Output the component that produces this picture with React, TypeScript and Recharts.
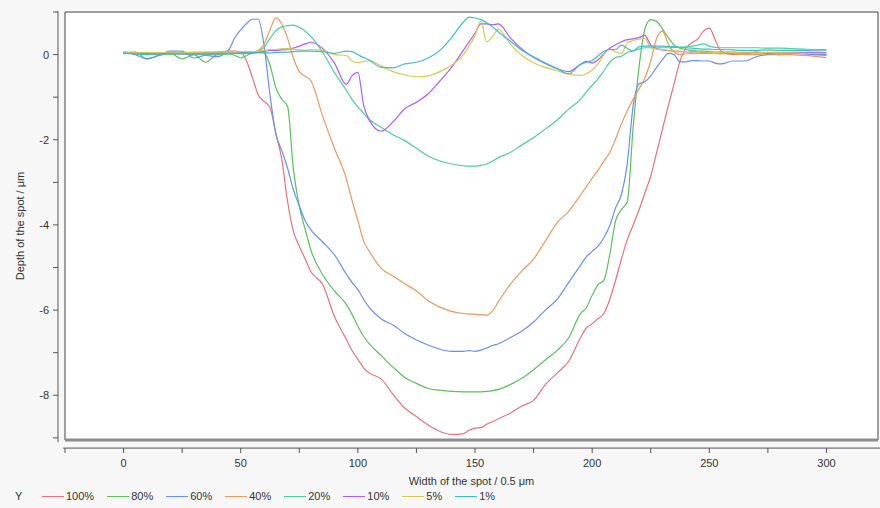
import React from 'react'
import { LineChart, Line, XAxis, YAxis, CartesianGrid, ReferenceArea, ReferenceLine } from 'recharts'

// spot width positions (x, in 0.5 µm steps)
const widths = [
  0, 5, 10, 15, 20, 25, 30, 35, 40, 45,
  47.5, 50, 52.5, 55, 57.5, 60, 62.5, 65, 67.5, 70, 72.5, 75, 77.5, 80,
  85, 90, 95, 97.5, 100, 102.5,
  105, 110, 115, 120, 125, 130, 135, 140, 145,
  147.5, 150, 152.5, 155, 157.5, 160,
  165, 170, 175, 180, 185, 190, 195,
  197.5, 200, 202.5, 205, 207.5, 210, 212.5, 215, 217.5, 220, 222.5, 225, 227.5, 230,
  232.5, 235, 237.5, 240, 242.5, 245, 247.5, 250, 252.5, 255,
  260, 265, 270, 275, 280, 285, 290, 295, 300,
]

const depth100 = [
  0.05, 0.04, 0.03, 0.04, 0.03, 0.04, 0.05, 0.05, 0.06, 0.08,
  0.08, 0.06, -0.15, -0.54, -0.95, -1.1, -1.25, -1.85, -2.45, -3.45, -4.15, -4.5, -4.8, -5.1,
  -5.4, -6.15, -6.68, -6.95, -7.15, -7.36,
  -7.48, -7.62, -7.98, -8.3, -8.5, -8.7, -8.85, -8.92, -8.9,
  -8.82, -8.77, -8.76, -8.68, -8.62, -8.55,
  -8.42, -8.25, -8.12, -7.75, -7.48, -7.2, -6.65,
  -6.42, -6.32, -6.2, -6.08, -5.75, -5.3, -4.8, -4.34, -4.0, -3.65, -3.25, -2.85, -2.3, -1.75,
  -1.2, -0.68, -0.15, 0.15, 0.28, 0.36, 0.55, 0.62, 0.35, 0.08,
  0.0, 0.02, 0.06, 0.03, 0.0, 0.04, 0.02, 0.0, -0.02,
]

const depth80 = [
  0.05, 0.06, -0.1, -0.02, 0.02, -0.1, 0.0, -0.18, 0.0, 0.02,
  -0.02, -0.08, -0.02, 0.03, 0.08, 0.04, -0.25, -0.78, -1.05, -1.22, -2.7, -3.56, -4.1, -4.6,
  -5.17, -5.55, -5.86, -6.1, -6.38, -6.62,
  -6.8, -7.07, -7.34, -7.58, -7.72, -7.84, -7.88, -7.91, -7.92,
  -7.92, -7.92, -7.92, -7.91, -7.89, -7.86,
  -7.75, -7.6, -7.4, -7.17, -6.95, -6.65, -6.08,
  -5.95, -5.65, -5.4, -5.3, -4.7, -3.9, -3.64, -3.45, -1.7, -0.3, 0.6, 0.82, 0.78, 0.6,
  0.4, 0.22, 0.15, 0.12, 0.1, 0.08, 0.08, 0.07, 0.06, 0.06,
  0.06, 0.05, 0.04, 0.05, 0.04, 0.03, 0.03, 0.02, 0.02,
]

const depth60 = [
  0.06, 0.0, -0.1, -0.02, 0.08, 0.08, -0.08, -0.02, -0.05, 0.12,
  0.4, 0.58, 0.73, 0.83, 0.83, 0.2, -0.95, -1.87, -2.25, -2.67, -3.18, -3.55, -3.9, -4.12,
  -4.4, -4.7, -5.15, -5.35, -5.52, -5.75,
  -5.95, -6.21, -6.35, -6.55, -6.7, -6.82, -6.92, -6.97, -6.97,
  -6.95, -6.97, -6.94, -6.89, -6.83, -6.79,
  -6.65, -6.49, -6.28, -6.0, -5.75, -5.35, -4.95,
  -4.75, -4.62, -4.5, -4.3, -4.02, -3.6, -3.28, -2.55, -1.2, -0.69, -0.64, -0.5, -0.3, -0.12,
  0.03, 0.0, -0.17, -0.17, -0.14, -0.14, -0.15, -0.15, -0.2, -0.22,
  -0.15, -0.15, -0.05, 0.0, 0.0, 0.02, 0.02, 0.0, 0.0,
]

const depth40 = [
  0.03, 0.04, 0.02, 0.03, 0.02, 0.03, 0.03, 0.04, 0.05, 0.06,
  0.06, 0.06, 0.05, 0.06, 0.1, 0.25, 0.58, 0.86, 0.72, 0.38, -0.08, -0.4, -0.51, -0.62,
  -1.45, -2.2, -2.9, -3.42, -3.9, -4.38,
  -4.63, -5.02, -5.2, -5.38, -5.55, -5.78, -5.93, -6.03, -6.08,
  -6.09, -6.1, -6.11, -6.12, -6.02, -5.8,
  -5.4, -5.08, -4.8, -4.38, -3.95, -3.68, -3.3,
  -3.1, -2.9, -2.72, -2.5, -2.3, -1.98, -1.63, -1.32, -1.05, -0.8, -0.55, -0.15, 0.38, 0.55,
  0.25, 0.06, 0.0, 0.02, 0.02, 0.02, 0.03, 0.03, 0.02, 0.02,
  0.02, 0.0, 0.0, 0.02, 0.0, 0.0, -0.02, -0.04, -0.07,
]

const depth20 = [
  0.02, 0.02, 0.0, 0.01, 0.01, 0.01, 0.0, 0.0, 0.0, 0.01,
  0.02, 0.02, 0.03, 0.04, 0.08, 0.17, 0.38, 0.56, 0.65, 0.68, 0.69, 0.64, 0.55, 0.42,
  0.05, -0.42, -0.83, -1.05, -1.23, -1.38,
  -1.53, -1.71, -1.88, -2.02, -2.2, -2.38, -2.5, -2.57, -2.61,
  -2.62, -2.62, -2.6, -2.57, -2.5, -2.42,
  -2.3, -2.12, -1.95, -1.75, -1.54, -1.28, -1.05,
  -0.88, -0.72, -0.57, -0.38, -0.18, -0.07, -0.04, 0.05, 0.09, 0.13, 0.16, 0.16, 0.16, 0.16,
  0.16, 0.17, 0.17, 0.18, 0.2, 0.22, 0.25, 0.2, 0.17, 0.16,
  0.16, 0.16, 0.16, 0.15, 0.15, 0.14, 0.13, 0.12, 0.12,
]

const depth10 = [
  0.03, 0.03, 0.02, 0.02, 0.02, 0.02, 0.02, 0.02, 0.02, 0.03,
  0.03, 0.03, 0.04, 0.04, 0.05, 0.07, 0.1, 0.1, 0.11, 0.12, 0.15, 0.2, 0.25, 0.29,
  0.14, -0.2, -0.7, -0.5, -0.42, -1.2,
  -1.55, -1.8, -1.58, -1.27, -1.12, -0.92, -0.62, -0.3, 0.1,
  0.3, 0.5, 0.72, 0.72, 0.7, 0.72,
  0.4, 0.13, -0.07, -0.21, -0.33, -0.4, -0.23,
  -0.16, -0.2, -0.12, 0.02, 0.15, 0.23, 0.3, 0.35, 0.37, 0.4, 0.45, 0.22, 0.14, 0.11,
  0.09, 0.08, 0.07, 0.07, 0.06, 0.06, 0.05, 0.05, 0.05, 0.04,
  0.04, 0.04, 0.05, 0.04, 0.04, 0.05, 0.05, 0.05, 0.04,
]

const depth5 = [
  0.05, 0.04, 0.05, 0.04, 0.05, 0.05, 0.05, 0.06, 0.06, 0.06,
  0.07, 0.07, 0.07, 0.07, 0.08, 0.1, 0.12, 0.12, 0.14, 0.14, 0.13, 0.11, 0.1, 0.12,
  0.1, 0.0, -0.02, -0.15, -0.19, -0.16,
  -0.15, -0.27, -0.4, -0.48, -0.52, -0.5, -0.4, -0.25, 0.0,
  0.2, 0.45, 0.78, 0.3, 0.42, 0.6,
  0.25, -0.02, -0.19, -0.3, -0.38, -0.46, -0.49,
  -0.45, -0.36, -0.22, 0.0, 0.12, 0.06, 0.03, 0.27, 0.33, 0.36, 0.38, 0.16, 0.13, 0.12,
  0.1, 0.08, 0.08, 0.07, 0.07, 0.06, 0.06, 0.05, 0.05, 0.05,
  0.05, 0.04, 0.04, 0.05, 0.04, 0.04, 0.03, 0.03, 0.03,
]

const depth1 = [
  0.04, 0.02, 0.0, 0.02, 0.03, 0.03, 0.02, 0.03, 0.03, 0.03,
  0.03, 0.04, 0.04, 0.04, 0.04, 0.04, 0.04, 0.05, 0.05, 0.06, 0.07, 0.08, 0.08, 0.08,
  0.07, 0.03, 0.08, 0.07, 0.0, -0.07,
  -0.13, -0.3, -0.31, -0.22, -0.18, -0.08, 0.1, 0.4, 0.76,
  0.88, 0.86, 0.82, 0.75, 0.65, 0.53,
  0.32, 0.1, -0.05, -0.2, -0.33, -0.45, -0.23,
  -0.18, -0.14, -0.03, 0.08, 0.12, 0.12, 0.22, 0.15, 0.08, 0.18, 0.2, 0.2, 0.2, 0.2,
  0.19, 0.18, 0.17, 0.16, 0.15, 0.14, 0.13, 0.13, 0.12, 0.12,
  0.11, 0.1, 0.1, 0.11, 0.1, 0.1, 0.1, 0.09, 0.09,
]

const xTicks = [-25, 0, 25, 50, 75, 100, 125, 150, 175, 200, 225, 250, 275, 300]
const yTicks = [-9, -8, -7, -6, -5, -4, -3, -2, -1, 0, 1]

const series = [
  { key: 'p100', name: '100%', color: '#e5737d', values: depth100 },
  { key: 'p80', name: '80%', color: '#5cbf5c', values: depth80 },
  { key: 'p60', name: '60%', color: '#6a8ff2', values: depth60 },
  { key: 'p40', name: '40%', color: '#e99a5c', values: depth40 },
  { key: 'p20', name: '20%', color: '#4ccfa0', values: depth20 },
  { key: 'p10', name: '10%', color: '#b05cf5', values: depth10 },
  { key: 'p5', name: '5%', color: '#d9c94f', values: depth5 },
  { key: 'p1', name: '1%', color: '#3dbfc8', values: depth1 },
]

const data = widths.map((x, i) => {
  const row: Record<string, number> = { x }
  series.forEach((s) => {
    row[s.key] = s.values[i]
  })
  return row
})

const FONT = '"Liberation Sans", Arial, sans-serif'
const AXIS = '#555'

// axes sit a few px away from the plot frame, so ticks are drawn by hand
const XTick = (props: any) => {
  const { x, y, payload } = props
  const v = payload.value
  return (
    <g>
      <line x1={x} x2={x} y1={y + 8} y2={y + 13} stroke={AXIS} />
      {v % 50 === 0 && (
        <text x={x} y={y + 27} textAnchor="middle" fontSize={11} fill="#333" fontFamily={FONT}>
          {v}
        </text>
      )}
    </g>
  )
}

const YTick = (props: any) => {
  const { x, y, payload } = props
  const v = payload.value
  return (
    <g>
      <line x1={x - 7} x2={x - 12} y1={y} y2={y} stroke={AXIS} />
      {v % 2 === 0 && v <= 0 && (
        <text x={x - 16} y={y + 4} textAnchor="end" fontSize={11} fill="#333" fontFamily={FONT}>
          {v}
        </text>
      )}
    </g>
  )
}

const Legend = () => (
  <div
    style={{
      position: 'absolute',
      left: 15,
      top: 490,
      display: 'flex',
      alignItems: 'center',
      fontFamily: FONT,
      fontSize: 11,
      color: '#333',
      whiteSpace: 'nowrap',
    }}
  >
    <span style={{ width: 27 }}>Y</span>
    {series.map((s) => (
      <span key={s.key} style={{ display: 'flex', alignItems: 'center', marginRight: 13 }}>
        <span style={{ width: 22, height: 1, background: s.color, marginRight: 2 }} />
        {s.name}
      </span>
    ))}
  </div>
)

export default function App() {
  return (
    <div style={{ position: 'absolute', left: 0, top: 0, width: 880, height: 508, background: '#f7f7f7' }}>
      <LineChart width={880} height={508} data={data} margin={{ top: 12, right: 2, bottom: 0, left: 0 }}>
        <CartesianGrid fill="#ffffff" horizontal={false} vertical={false} />
        <XAxis
          dataKey="x"
          type="number"
          domain={[-25, 322]}
          ticks={xTicks}
          allowDataOverflow
          height={68}
          axisLine={false}
          tickLine={false}
          tickSize={0}
          tickMargin={0}
          tick={<XTick />}
          label={{ value: 'Width of the spot / 0.5 μm', position: 'center', dy: 7, style: { fontSize: 11, fill: '#333', fontFamily: FONT } }}
        />
        <YAxis
          type="number"
          domain={[-9.05, 1]}
          ticks={yTicks}
          allowDataOverflow
          width={65}
          axisLine={false}
          tickLine={false}
          tickSize={0}
          tickMargin={0}
          tick={<YTick />}
          label={{ value: 'Depth of the spot / μm', angle: -90, position: 'center', dx: -12, style: { fontSize: 11, fill: '#333', fontFamily: FONT } }}
        />
        <ReferenceArea x1={-25} x2={322} y1={-9.05} y2={1} fill="none" stroke="#444" strokeWidth={1} ifOverflow="visible" />
        <ReferenceLine y={-9.05} stroke="#8c8c8c" strokeWidth={3} ifOverflow="visible" />
        <ReferenceLine
          segment={[{ x: -28, y: 1.02 }, { x: -28, y: -9.1 }]}
          stroke={AXIS}
          ifOverflow="visible"
        />
        <ReferenceLine
          segment={[{ x: -25.8, y: -9.24 }, { x: 323, y: -9.24 }]}
          stroke={AXIS}
          ifOverflow="visible"
        />
        {series.map((s) => (
          <Line
            key={s.key}
            dataKey={s.key}
            name={s.name}
            type="monotone"
            stroke={s.color}
            strokeWidth={1.2}
            dot={false}
            isAnimationActive={false}
          />
        ))}
      </LineChart>
      <Legend />
    </div>
  )
}
